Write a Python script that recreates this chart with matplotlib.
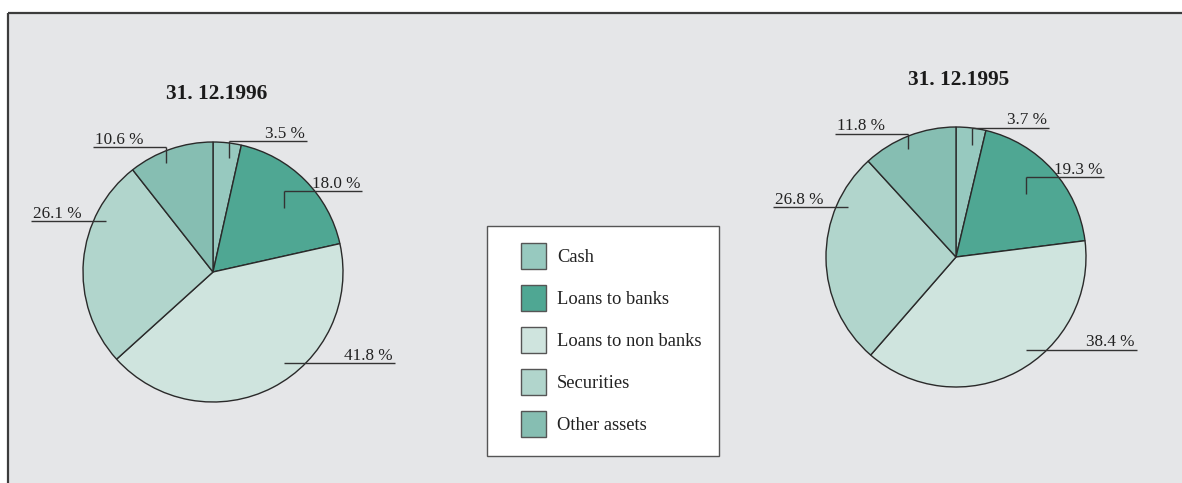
import numpy as np
import matplotlib
matplotlib.use('Agg')
import matplotlib.pyplot as plt
from matplotlib.patches import Rectangle, Patch

# ================================ DATA ======================================
categories = ['Cash', 'Loans to banks', 'Loans to non banks', 'Securities', 'Other assets']
share_1996 = [3.5, 18.0, 41.8, 26.1, 10.6]
share_1995 = [3.7, 19.3, 38.4, 26.8, 11.8]
titles = ['31. 12.1996', '31. 12.1995']

# ================================ STYLE =====================================
colors = ['#97c9bf', '#4fa793', '#cfe4de', '#b1d5cc', '#86beb2']
bg_color = '#e5e6e8'
line_color = '#2a2a2a'
plt.rcParams['font.family'] = ['Liberation Serif', 'DejaVu Serif']

W, H = 1182, 483
R = 130  # pie radius in pixels

# label leader lines (pixel layout): underline x0, x1, y, tick (x, y_end) or None, text side
layout_1996 = [
    (229, 307, 141, (229, 158), 'right'),
    (284, 362, 191, (284, 208), 'right'),
    (284, 395, 363, None, 'right'),
    (31, 106, 221, None, 'left'),
    (93, 166, 147, (166, 163), 'left'),
]
layout_1995 = [
    (972, 1049, 128, (972, 145), 'right'),
    (1026, 1104, 177, (1026, 194), 'right'),
    (1026, 1137, 350, None, 'right'),
    (773, 848, 207, None, 'left'),
    (835, 908, 134, (908, 149), 'left'),
]

fig = plt.figure(figsize=(W / 100, H / 100), dpi=100)
fig.patch.set_facecolor('white')

# background panel
bg = fig.add_axes([0, 0, 1, 1], zorder=0)
bg.set_xlim(0, W)
bg.set_ylim(H, 0)
bg.axis('off')
bg.add_patch(Rectangle((8, 13), W - 8, H - 13, facecolor=bg_color, edgecolor='none'))
bg.plot([8, W], [13, 13], color='#3c3c3c', lw=1.6, solid_capstyle='butt')
bg.plot([8, 8], [13, H], color='#3c3c3c', lw=1.6, solid_capstyle='butt')


def draw_pie(cx, cy, values, title, title_xy):
    pad = 1.03
    half = R * pad
    ax = fig.add_axes([(cx - half) / W, (H - cy - half) / H, 2 * half / W, 2 * half / H], zorder=1)
    ax.pie(values, colors=colors, startangle=90, counterclock=False, radius=1,
           wedgeprops=dict(edgecolor=line_color, linewidth=1.0))
    ax.set_xlim(-pad, pad)
    ax.set_ylim(-pad, pad)
    ax.set_aspect('equal')
    ax.axis('off')
    bg.text(title_xy[0], title_xy[1], title, ha='center', va='center',
            fontsize=15.3, fontweight='bold', color='#1a1a1a')


draw_pie(213, 272, share_1996, titles[0], (217, 94))
draw_pie(956, 257, share_1995, titles[1], (959, 80))

# overlay for labels, leader lines and legend
ov = fig.add_axes([0, 0, 1, 1], zorder=2)
ov.set_xlim(0, W)
ov.set_ylim(H, 0)
ov.axis('off')
ov.patch.set_alpha(0)

for values, layout in [(share_1996, layout_1996), (share_1995, layout_1995)]:
    for v, (x0, x1, y, tick, side) in zip(values, layout):
        ov.plot([x0, x1], [y, y], color='#333333', lw=1.0, solid_capstyle='butt')
        if tick is not None:
            ov.plot([tick[0], tick[0]], [y, tick[1]], color='#333333', lw=1.0, solid_capstyle='butt')
        if side == 'right':
            ov.text(x1 - 2, y - 3.5, f'{v:.1f} %', ha='right', va='baseline', fontsize=12.3, color='#222222')
        else:
            ov.text(x0 + 2, y - 3.5, f'{v:.1f} %', ha='left', va='baseline', fontsize=12.3, color='#222222')

# legend box
ov.add_patch(Rectangle((487, 226), 232, 230, facecolor='white', edgecolor='#555555', lw=1.0))
handles = [Patch(facecolor=c, edgecolor='#555555', lw=1.0) for c in colors]
fs = 13.3
fs_px = fs * 100 / 72
# legend patch height = fs*(0.65*hh + 0.245) -> solve for a 26 px square-ish box
hh = (26 / fs_px - 0.245) / 0.65
leg = ov.legend(handles, categories, loc='upper left', bbox_to_anchor=(521, 243),
                bbox_transform=ov.transData, frameon=False, fontsize=fs,
                borderpad=0, borderaxespad=0,
                handlelength=25 / fs_px, handleheight=hh,
                handletextpad=11 / fs_px, labelspacing=16 / fs_px)
for t in leg.get_texts():
    t.set_color('#222222')

fig.savefig('out.png', dpi=100, facecolor='white')
